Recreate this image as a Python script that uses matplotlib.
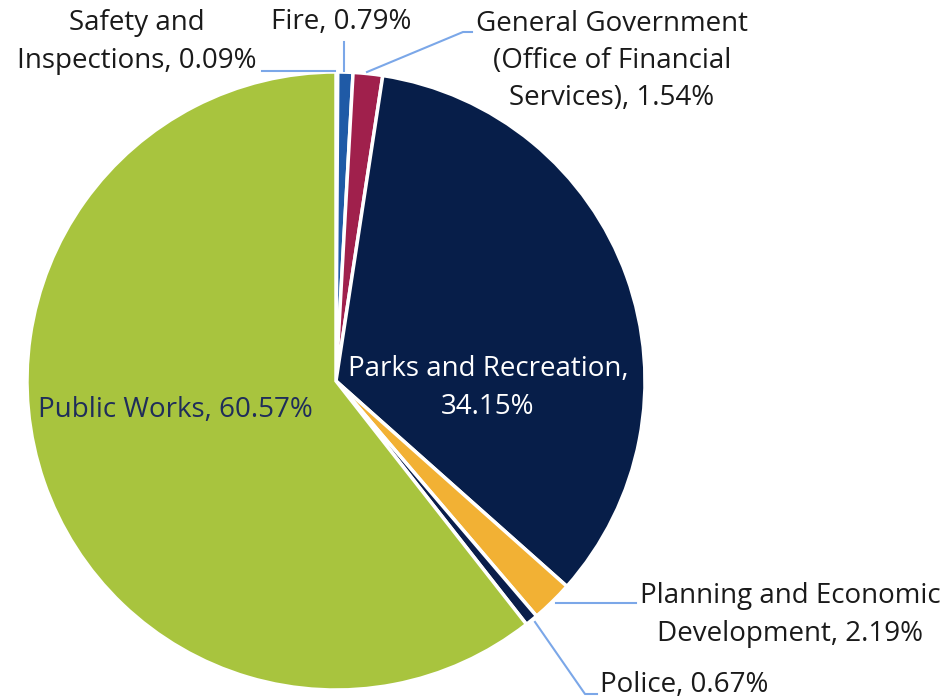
import matplotlib.pyplot as plt

plt.rcParams['font.family'] = ['Open Sans', 'DejaVu Sans']

# dados
departamentos = ["Safety and Inspections", "Fire", "General Government (Office of Financial Services)",
                 "Parks and Recreation", "Planning and Economic Development", "Police", "Public Works"]
percentuais = [0.09, 0.79, 1.54, 34.15, 2.19, 0.67, 60.57]
cores = ["#8faadc", "#1f5aa6", "#a0204c", "#071e49", "#f2b134", "#0a1e4b", "#a8c43e"]

fig = plt.figure(figsize=(9.5, 7), dpi=100)
ax = fig.add_axes([0, 0, 1, 1])

# pizza (eixo y invertido -> counterclock=True desenha no sentido horario na tela)
ax.pie(percentuais, colors=cores, startangle=-90, counterclock=True,
       center=(336, 381), radius=309, frame=True,
       wedgeprops=dict(edgecolor='white', linewidth=2.5))
ax.set_xlim(0, 950)
ax.set_ylim(700, 0)
ax.set_aspect('equal')
ax.axis('off')

fs = 20
ls = 1.45
linha = "#7ba7e8"

# rotulos e linhas de chamada
ax.text(137, 42, "Safety and\nInspections, 0.09%", ha='center', va='center', fontsize=fs,
        color='#1a1a1a', linespacing=ls)
ax.plot([262, 335], [71, 71], color=linha, lw=1.5)

ax.text(341, 22, "Fire, 0.79%", ha='center', va='center', fontsize=fs, color='#1a1a1a')
ax.plot([344, 344], [42, 71], color=linha, lw=1.5)

ax.text(612, 61, "General Government\n(Office of Financial\nServices), 1.54%", ha='center',
        va='center', fontsize=fs, color='#1a1a1a', linespacing=ls)
ax.plot([367, 463, 472], [72, 32, 32], color=linha, lw=1.5)

ax.text(488, 388, "Parks and Recreation,\n34.15%", ha='center', va='center', fontsize=fs,
        color='white', linespacing=ls)

ax.text(175, 410, "Public Works, 60.57%", ha='center', va='center', fontsize=fs, color='#1f2d5a')

ax.text(790, 615, "Planning and Economic\nDevelopment, 2.19%", ha='center', va='center',
        fontsize=fs, color='#1a1a1a', linespacing=ls)
ax.plot([556, 636], [603, 603], color=linha, lw=1.5)

ax.text(600, 685, "Police, 0.67%", ha='left', va='center', fontsize=fs, color='#1a1a1a')
ax.plot([535, 585, 597], [622, 694, 694], color=linha, lw=1.5)

plt.savefig("out.png", dpi=100)
